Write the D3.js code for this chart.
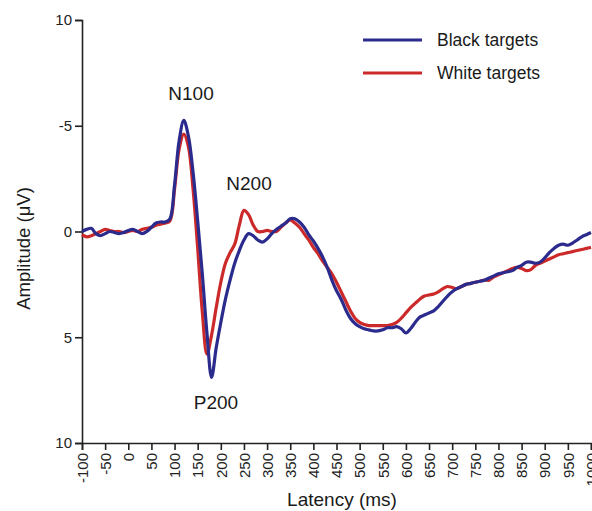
<!DOCTYPE html>
<html>
<head>
<meta charset="utf-8">
<script src="https://cdn.jsdelivr.net/npm/d3@7"></script>
<style>
  html, body { margin: 0; padding: 0; background: #fff; }
  svg { display: block; }
  text { font-family: "Liberation Sans", Arial, Helvetica, sans-serif; fill: #1a1a1a; }
</style>
</head>
<body>
<svg id="chart" width="592" height="511"></svg>
<script>
// ---- Data ----
const latency = d3.range(-100, 1001, 10); // ms
const blackTargets = [
  0.0, -0.1, -0.15, 0.1, 0.2, 0.1, 0.0, 0.05, 0.1, 0.05,
  -0.05, -0.1, 0.0, 0.1, 0.0, -0.2, -0.4, -0.45, -0.45, -0.6,
  -2.2, -4.3, -5.25, -4.5, -2.8, -0.5, 2.0, 4.8, 6.9, 5.5,
  4.3, 3.2, 2.3, 1.5, 0.9, 0.4, 0.1, 0.2, 0.4, 0.5,
  0.35, 0.1, -0.1, -0.25, -0.4, -0.6, -0.6, -0.45, -0.2, 0.15,
  0.45, 0.8, 1.2, 1.7, 2.3, 2.8, 3.2, 3.7, 4.1, 4.35,
  4.5, 4.6, 4.65, 4.7, 4.7, 4.65, 4.55, 4.55, 4.5, 4.6,
  4.8, 4.6, 4.3, 4.05, 3.95, 3.85, 3.75, 3.55, 3.3, 3.05,
  2.85, 2.7, 2.6, 2.5, 2.45, 2.4, 2.35, 2.3, 2.2, 2.1,
  2.0, 1.95, 1.9, 1.85, 1.7, 1.6, 1.45, 1.45, 1.5, 1.45,
  1.25, 1.0, 0.8, 0.65, 0.6, 0.65, 0.55, 0.4, 0.25, 0.15,
  0.05
];
const whiteTargets = [
  0.15, 0.25, 0.2, 0.1, 0.0, -0.1, -0.05, 0.0, 0.0, 0.05,
  0.0, -0.05, 0.0, -0.1, -0.15, -0.2, -0.3, -0.35, -0.4, -0.5,
  -2.0, -3.9, -4.6, -4.0, -2.0, 0.8, 3.8, 5.8, 4.9, 3.6,
  2.4, 1.5, 1.0, 0.6, -0.3, -1.0, -0.8, -0.3, 0.0, 0.0,
  -0.05, 0.0, 0.0, -0.2, -0.4, -0.55, -0.4, -0.2, 0.1, 0.4,
  0.75, 1.05, 1.4, 1.7, 2.0, 2.4, 2.85, 3.3, 3.75, 4.1,
  4.3, 4.4, 4.45, 4.45, 4.45, 4.45, 4.45, 4.4, 4.3, 4.1,
  3.85, 3.6, 3.4, 3.2, 3.05, 3.0, 2.95, 2.85, 2.7, 2.6,
  2.65, 2.7, 2.6, 2.5, 2.45, 2.4, 2.35, 2.3, 2.3, 2.15,
  2.05, 1.95, 1.85, 1.75, 1.7, 1.75, 1.85, 1.8, 1.6, 1.5,
  1.4, 1.3, 1.2, 1.1, 1.05, 1.0, 0.95, 0.9, 0.85, 0.8,
  0.75
];
const xTicks = d3.range(-100, 1001, 50);
const xTickLabels = xTicks.map(d => String(d));
const yTicks = [-10, -5, 0, 5, 10];
const yTickLabels = ["10", "-5", "0", "5", "10"];
const seriesNames = ["Black targets", "White targets"];
const seriesColors = ["#2b2b8e", "#cc2a2a"];

// ---- Layout ----
const svg = d3.select("#chart");
const x = d3.scaleLinear().domain([-100, 1000]).range([82, 591]);
const y = d3.scaleLinear().domain([-10, 10]).range([20, 443]);

// Axes
const yAxis = d3.axisLeft(y).tickValues(yTicks)
  .tickFormat((d, i) => yTickLabels[i]).tickSize(7).tickPadding(3);
const gy = svg.append("g").attr("transform", `translate(${x(-100)},0)`).call(yAxis);
gy.select(".domain").attr("stroke", "#222").attr("stroke-width", 1.6);
gy.selectAll(".tick line").attr("stroke", "#222").attr("stroke-width", 1.6);
gy.selectAll(".tick text").attr("font-size", 15).style("fill", "#222");

const xAxis = d3.axisBottom(x).tickValues(xTicks)
  .tickFormat((d, i) => xTickLabels[i]).tickSize(7).tickPadding(3);
const gx = svg.append("g").attr("transform", `translate(0,${y(10)})`).call(xAxis);
gx.select(".domain").attr("stroke", "#222").attr("stroke-width", 1.6);
gx.selectAll(".tick line").attr("stroke", "#222").attr("stroke-width", 1.6);
gx.selectAll(".tick text")
  .attr("font-size", 15).style("fill", "#222")
  .attr("transform", "rotate(-90)")
  .attr("text-anchor", "end")
  .attr("x", -10).attr("y", 0).attr("dy", "0.35em");

// Axis titles
svg.append("text")
  .attr("transform", `translate(30,${(y(-10) + y(10)) / 2 + 17}) rotate(-90)`)
  .attr("text-anchor", "middle").attr("font-size", 18.5)
  .text("Amplitude (\u03BCV)");
svg.append("text")
  .attr("x", 342).attr("y", 506)
  .attr("text-anchor", "middle").attr("font-size", 19)
  .text("Latency (ms)");

// Lines
const line = d3.line()
  .x((d, i) => x(latency[i]))
  .y(d => y(d))
  .curve(d3.curveCatmullRom.alpha(0.5));
const allSeries = [whiteTargets, blackTargets];
const allColors = [seriesColors[1], seriesColors[0]];
allSeries.forEach((s, k) => {
  svg.append("path").datum(s)
    .attr("fill", "none")
    .attr("stroke", allColors[k])
    .attr("stroke-width", 3.2)
    .attr("stroke-linejoin", "round")
    .attr("d", line);
});

// Peak annotations
svg.append("text").attr("x", 191).attr("y", 100).attr("text-anchor", "middle")
  .attr("font-size", 19).text("N100");
svg.append("text").attr("x", 249).attr("y", 190).attr("text-anchor", "middle")
  .attr("font-size", 19).text("N200");
svg.append("text").attr("x", 216).attr("y", 409).attr("text-anchor", "middle")
  .attr("font-size", 19).text("P200");

// Legend
const legend = svg.append("g");
seriesNames.forEach((name, i) => {
  const ly = 40 + i * 33;
  legend.append("line")
    .attr("x1", 363).attr("x2", 422).attr("y1", ly).attr("y2", ly)
    .attr("stroke", seriesColors[i]).attr("stroke-width", 3);
  legend.append("text")
    .attr("x", 437).attr("y", ly).attr("dy", "0.35em")
    .attr("font-size", 17.5).text(name);
});
</script>
</body>
</html>
